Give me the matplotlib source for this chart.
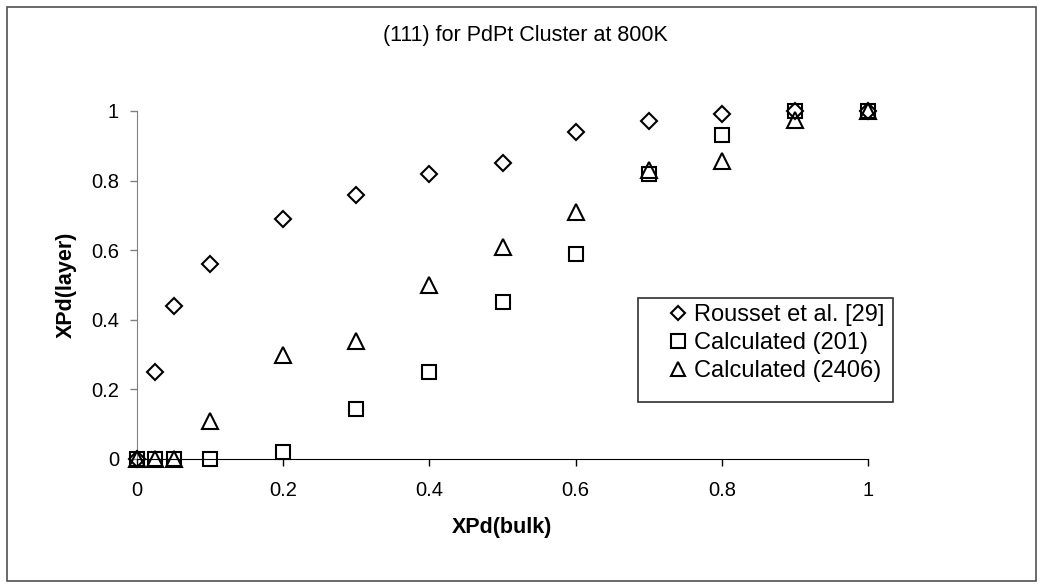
import matplotlib
matplotlib.use("Agg")
import matplotlib.pyplot as plt
from matplotlib.patches import Rectangle

plt.rcParams['font.family'] = ['Liberation Sans', 'DejaVu Sans']

x_bulk = [0, 0.025, 0.05, 0.1, 0.2, 0.3, 0.4, 0.5, 0.6, 0.7, 0.8, 0.9, 1.0]
rousset = [0, 0.25, 0.44, 0.56, 0.69, 0.76, 0.82, 0.85, 0.94, 0.97, 0.99, 1.0, 1.0]
calc_201 = [0, 0, 0, 0, 0.02, 0.145, 0.25, 0.45, 0.59, 0.82, 0.93, 1.0, 1.0]
calc_2406 = [0, 0, 0, 0.11, 0.30, 0.34, 0.50, 0.61, 0.71, 0.83, 0.855, 0.975, 1.0]
xticks = [0, 0.2, 0.4, 0.6, 0.8, 1]
xtick_labels = ['0', '0.2', '0.4', '0.6', '0.8', '1']
yticks = [0, 0.2, 0.4, 0.6, 0.8, 1]
ytick_labels = ['0', '0.2', '0.4', '0.6', '0.8', '1']

W, H = 1043, 588
fig = plt.figure(figsize=(W / 100, H / 100), dpi=100)
fig.patches.append(Rectangle((7 / W, 7 / H), (W - 14) / W, (H - 14) / H, transform=fig.transFigure,
                             fill=False, edgecolor='#505050', linewidth=1.2))
ax = fig.add_axes([137 / W, 1 - 459 / H, (868 - 137) / W, (459 - 111) / H])

ax.plot(x_bulk, rousset, linestyle='none', marker='D', markersize=8, markerfacecolor='none',
        markeredgecolor='black', markeredgewidth=1.5, label='Rousset et al. [29]', clip_on=False, zorder=3)
ax.plot(x_bulk, calc_201, linestyle='none', marker='s', markersize=10.5, markerfacecolor='none',
        markeredgecolor='black', markeredgewidth=1.5, label='Calculated (201)', clip_on=False, zorder=3)
ax.plot(x_bulk, calc_2406, linestyle='none', marker='^', markersize=11, markerfacecolor='none',
        markeredgecolor='black', markeredgewidth=1.5, label='Calculated (2406)', clip_on=False, zorder=3)

ax.set_xlim(0, 1)
ax.set_ylim(0, 1)
ax.spines['top'].set_visible(False)
ax.spines['right'].set_visible(False)
ax.spines['left'].set_color('#808080')
ax.spines['bottom'].set_color('black')
ax.set_xticks(xticks)
ax.set_xticklabels(xtick_labels)
ax.set_yticks(yticks)
ax.set_yticklabels(ytick_labels)
ax.tick_params(axis='both', direction='out', length=5, labelsize=14.5, width=1)
ax.tick_params(axis='x', pad=11)
ax.tick_params(axis='y', pad=8, color='#808080')

ax.set_xlabel('XPd(bulk)', fontsize=15.5, fontweight='bold', labelpad=12)
ax.set_ylabel('XPd(layer)', fontsize=15.5, fontweight='bold', labelpad=10)

fig.text(525 / W, 1 - 35 / H, '(111) for PdPt Cluster at 800K', ha='center', va='center', fontsize=15.5)

fig.patches.append(Rectangle((638 / W, 1 - 402 / H), (893 - 638) / W, (402 - 298) / H,
                             transform=fig.transFigure, fill=False, edgecolor='#303030', linewidth=1.2))
leg = ax.legend(loc='upper left', bbox_to_anchor=(666 / W, 1 - 304 / H), bbox_transform=fig.transFigure,
                fontsize=17, frameon=False, handlelength=1.0, handletextpad=0.17, borderpad=0,
                borderaxespad=0, labelspacing=0.25, markerscale=0.9)

fig.savefig('out.png', dpi=100)
